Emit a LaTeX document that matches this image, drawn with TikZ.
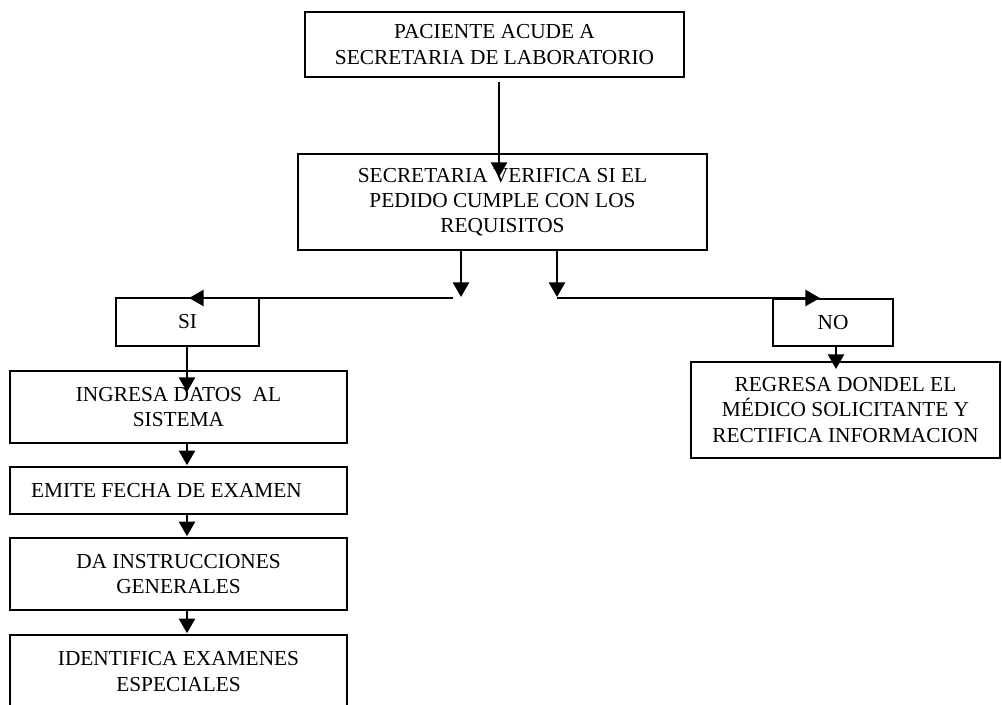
\documentclass[tikz,border=0pt]{standalone}
\usepackage{fontspec}
\setmainfont{Liberation Serif}
\usetikzlibrary{arrows.meta}
\begin{document}
\begin{tikzpicture}[x=0.75pt,y=-0.75pt,
  stepbox/.style={draw, line width=1.1pt, rectangle, inner sep=0pt, align=center,
    font=\fontsize{16pt}{19pt}\selectfont},
  arr/.style={line width=2pt, -{Triangle[length=11pt,width=12pt]}}]
\useasboundingbox (0,0) rectangle (1002,704);
\clip (0,0) rectangle (1002,704);

% boxes
\node[stepbox, minimum width=284.25pt, minimum height=48.75pt] (top) at (494.5,44.5)
  {PACIENTE ACUDE A\\SECRETARIA DE LABORATORIO};
\node[stepbox, minimum width=306.75pt, minimum height=72pt] (verif) at (502.5,202)
  {SECRETARIA VERIFICA SI EL\\PEDIDO CUMPLE CON LOS\\REQUISITOS};
\node[stepbox, minimum width=107.25pt, minimum height=36pt] (si) at (187.5,322) {SI};
\node[stepbox, minimum width=90pt, minimum height=35.25pt] (no) at (833,322.5) {NO};
\node[stepbox, minimum width=252.75pt, minimum height=54pt] (ingresa) at (178.5,407)
  {INGRESA DATOS\ \ AL\\SISTEMA};
\node[stepbox, minimum width=252.75pt, minimum height=35.25pt] (emite) at (178.5,490.5)
  {EMITE FECHA DE EXAMEN\hspace*{18pt}};
\node[stepbox, minimum width=252.75pt, minimum height=54pt] (da) at (178.5,574)
  {DA INSTRUCCIONES\\GENERALES};
\node[stepbox, minimum width=252.75pt, minimum height=54.75pt] (ident) at (178.5,671.5)
  {IDENTIFICA EXAMENES\\ESPECIALES};
\node[stepbox, minimum width=231.75pt, minimum height=72pt] (regresa) at (845.5,410)
  {REGRESA DONDEL EL\\MÉDICO SOLICITANTE Y\\RECTIFICA INFORMACION};

% connector end points
\coordinate (a1s) at (499,82);
\coordinate (a1e) at (499,177);
\coordinate (lbs) at (461,250);
\coordinate (lbe) at (461,297);
\coordinate (lhs) at (453,298);
\coordinate (lhe) at (189,298);
\coordinate (rbs) at (557,250);
\coordinate (rbe) at (557,297);
\coordinate (rhs) at (557,298);
\coordinate (rhe) at (820,298);
\coordinate (sie) at (187,392);
\coordinate (noe) at (836,369);

% connectors
\draw[arr] (a1s) -- (a1e);
\draw[arr] (lbs) -- (lbe);
\draw[arr] (lhs) -- (lhe);
\draw[arr] (rbs) -- (rbe);
\draw[arr] (rhs) -- (rhe);
\draw[arr] (si.south -| sie) -- (sie);
\draw[arr] (no.south -| noe) -- (noe);
\draw[arr] (ingresa.south -| sie) -- ([yshift=0.75pt]emite.north -| sie);
\draw[arr] (emite.south -| sie) -- ([yshift=0.75pt]da.north -| sie);
\draw[arr] (da.south -| sie) -- ([yshift=0.75pt]ident.north -| sie);
\end{tikzpicture}
\end{document}
